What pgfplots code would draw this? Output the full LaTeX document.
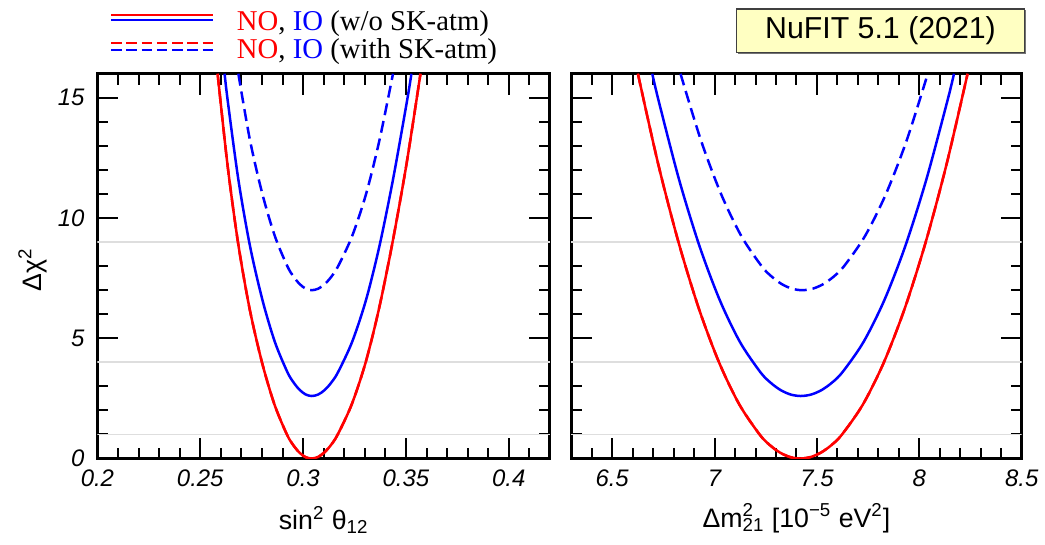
\documentclass[border=0pt]{standalone}
\usepackage{pgfplots}
\pgfplotsset{compat=1.18}
\usepackage{fontspec}
\setmainfont{Liberation Sans}
\newfontfamily\serif{Liberation Serif}
\definecolor{boxy}{RGB}{255,255,194}
\definecolor{lightgl}{RGB}{222,222,222}
\definecolor{myred}{RGB}{255,0,0}
\definecolor{myblue}{RGB}{0,0,255}

\pgfplotsset{
  cs/.style={line width=1.25pt, smooth, tension=0.5},
  cd/.style={line width=1.25pt, smooth, tension=0.5, dash pattern=on 6pt off 3pt},
  gline/.style={lightgl, line width=0.9pt, forget plot},
  base/.style={scale only axis, height=193pt, ymin=0, ymax=16,
    ytick={0,5,10,15},
    minor ytick={1,2,3,4,6,7,8,9,11,12,13,14,16},
    major tick length=10.5pt, minor tick length=5.5pt,
    every tick/.append style={line width=1pt, black},
    axis background/.style={draw=black, line width=1.5pt},
    tick label style={font=\fontsize{12}{14}\selectfont\itshape},
    xticklabel style={yshift=-2pt},
    yticklabel style={xshift=-3pt},
    label style={font=\fontsize{13.4}{16}\selectfont}},
}

\begin{document}
\begin{tikzpicture}
\path (0pt,0pt) rectangle (522.5pt,-273pt);

% ---------- left panel ----------
\begin{axis}[base, width=227pt, at={(48.85pt,-230pt)}, anchor=south west,
  xmin=0.2, xmax=0.42,
  xtick={0.2,0.25,0.3,0.35,0.4},
  minor xtick={0.21,0.22,0.23,0.24,0.26,0.27,0.28,0.29,0.31,0.32,0.33,0.34,0.36,0.37,0.38,0.39,0.41},
  xticklabels={0.2,0.25,0.3,0.35,0.4},
  yticklabels={0,5,10,15},
  xlabel={sin\textsuperscript{2} θ\textsubscript{12}},
  xlabel style={at={(axis description cs:0.5,-0.16)}, anchor=center},
  ylabel={Δχ\textsuperscript{2}},
  ylabel style={at={(axis description cs:-0.1425,0.49)}, anchor=center},
  legend style={at={(axis description cs:0.027,1.168)}, anchor=north west, draw=none, fill=none,
    inner sep=0pt, font=\serif\fontsize{14.4}{17}\selectfont, cells={anchor=west},
    nodes={inner sep=0pt, text height=10.5pt, text depth=3.5pt}, column sep=11.5pt},
]
\addlegendimage{legend image code/.code={
  \draw[myred,line width=1.2pt] (0pt,4.2pt) -- (51pt,4.2pt);
  \draw[myblue,line width=1.2pt] (0pt,1.7pt) -- (51pt,1.7pt);}}
\addlegendentry{\textcolor{myred}{NO}, \textcolor{myblue}{IO} (w/o SK-atm)}
\addlegendimage{legend image code/.code={
  \draw[myred,line width=1.2pt, dash pattern=on 5.25pt off 2.4pt] (0pt,4.2pt) -- (51pt,4.2pt);
  \draw[myblue,line width=1.2pt, dash pattern=on 5.25pt off 2.4pt] (0pt,0.8pt) -- (51pt,0.8pt);}}
\addlegendentry{\textcolor{myred}{NO}, \textcolor{myblue}{IO} (with SK-atm)}

\addplot[gline] coordinates {(0.2,1) (0.42,1)};
\addplot[gline] coordinates {(0.2,4) (0.42,4)};
\addplot[gline] coordinates {(0.2,9) (0.42,9)};
% NO with SK-atm (lies under NO w/o SK-atm)
\addplot[myred, cd, forget plot] coordinates {
(0.25845,16) (0.2632,12.25) (0.26833,9) (0.27395,6.25) (0.28001,4) (0.28607,2.25) (0.29213,1) (0.29518,0.5625)
(0.29818,0.25) (0.30109,0.0625) (0.3040,0) (0.30715,0.0625) (0.3103,0.25) (0.31355,0.5625) (0.31684,1)
(0.32363,2.25) (0.33041,4) (0.33695,6.25) (0.3435,9) (0.35028,12.25) (0.35706,16)};
% IO with SK-atm
\addplot[myblue, cd, forget plot] coordinates {
(0.26853,16) (0.27415,13.25) (0.28021,11) (0.28627,9.25) (0.29233,8) (0.29538,7.5625) (0.29838,7.25)
(0.30129,7.0625) (0.3042,7) (0.30735,7.0625) (0.3105,7.25) (0.31375,7.5625) (0.31704,8) (0.32383,9.25)
(0.33061,11) (0.33715,13.25) (0.3437,16)};
% IO w/o SK-atm
\addplot[myblue, cs, forget plot] coordinates {
(0.26184,16) (0.2634,14.85) (0.26853,11.6) (0.27415,8.85) (0.28021,6.6) (0.28627,4.85) (0.29233,3.6)
(0.29538,3.1625) (0.29838,2.85) (0.30129,2.6625) (0.3042,2.6) (0.30735,2.6625) (0.3105,2.85) (0.31375,3.1625)
(0.31704,3.6) (0.32383,4.85) (0.33061,6.6) (0.33715,8.85) (0.3437,11.6) (0.35048,14.85) (0.35266,16)};
% NO w/o SK-atm
\addplot[myred, cs, forget plot] coordinates {
(0.25845,16) (0.2632,12.25) (0.26833,9) (0.27395,6.25) (0.28001,4) (0.28607,2.25) (0.29213,1) (0.29518,0.5625)
(0.29818,0.25) (0.30109,0.0625) (0.3040,0) (0.30715,0.0625) (0.3103,0.25) (0.31355,0.5625) (0.31684,1)
(0.32363,2.25) (0.33041,4) (0.33695,6.25) (0.3435,9) (0.35028,12.25) (0.35706,16)};
\end{axis}

% ---------- right panel ----------
\begin{axis}[base, width=226pt, at={(286.5pt,-230pt)}, anchor=south west,
  xmin=6.3, xmax=8.5,
  xtick={6.5,7,7.5,8,8.5},
  xticklabels={6.5,7,7.5,8,8.5},
  minor xtick={6.4,6.6,6.7,6.8,6.9,7.1,7.2,7.3,7.4,7.6,7.7,7.8,7.9,8.1,8.2,8.3,8.4},
  yticklabels={},
  xlabel={Δm\rlap{\textsuperscript{2}}\textsubscript{21} [10\textsuperscript{−5} eV\textsuperscript{2}]},
  xlabel style={at={(axis description cs:0.5,-0.155)}, anchor=center},
]
\addplot[gline] coordinates {(6.3,1) (8.5,1)};
\addplot[gline] coordinates {(6.3,4) (8.5,4)};
\addplot[gline] coordinates {(6.3,9) (8.5,9)};
% NO with SK-atm (lies under NO w/o SK-atm)
\addplot[myred, cd] coordinates {
(6.6258,16) (6.7248,12.25) (6.8239,9) (6.9229,6.25) (7.0219,4) (7.1209,2.25) (7.22,1) (7.2695,0.5625)
(7.319,0.25) (7.3685,0.0625) (7.418,0) (7.4691,0.0625) (7.5202,0.25) (7.5713,0.5625) (7.6224,1)
(7.7246,2.25) (7.8268,4) (7.929,6.25) (8.0311,9) (8.1333,12.25) (8.2355,16)};
% IO with SK-atm
\addplot[myblue, cd] coordinates {
(6.8339,16) (6.9329,13.25) (7.0319,11) (7.1309,9.25) (7.23,8) (7.2795,7.5625) (7.329,7.25) (7.3785,7.0625)
(7.428,7) (7.4791,7.0625) (7.5302,7.25) (7.5813,7.5625) (7.6324,8) (7.7346,9.25) (7.8368,11) (7.939,13.25)
(8.0411,16)};
% IO w/o SK-atm
\addplot[myblue, cs] coordinates {
(6.6959,16) (6.7278,14.85) (6.8268,11.6) (6.9259,8.85) (7.0249,6.6) (7.1239,4.85) (7.223,3.6) (7.2725,3.1625)
(7.322,2.85) (7.3715,2.6625) (7.421,2.6) (7.4721,2.6625) (7.5232,2.85) (7.5743,3.1625) (7.6254,3.6)
(7.7276,4.85) (7.8298,6.6) (7.932,8.85) (8.0341,11.6) (8.1363,14.85) (8.1692,16)};
% NO w/o SK-atm
\addplot[myred, cs] coordinates {
(6.6258,16) (6.7248,12.25) (6.8239,9) (6.9229,6.25) (7.0219,4) (7.1209,2.25) (7.22,1) (7.2695,0.5625)
(7.319,0.25) (7.3685,0.0625) (7.418,0) (7.4691,0.0625) (7.5202,0.25) (7.5713,0.5625) (7.6224,1)
(7.7246,2.25) (7.8268,4) (7.929,6.25) (8.0311,9) (8.1333,12.25) (8.2355,16)};
\end{axis}

\fill[black!55] (370.2pt,-5.2pt) rectangle (514.7pt,-27.2pt);
\node[draw=black!75, fill=boxy, line width=0.8pt, minimum width=144.5pt, minimum height=22pt,
  inner sep=0pt, anchor=north west, font=\fontsize{15.2}{18}\selectfont] at (369pt,-4pt) {NuFIT 5.1 (2021)};
\end{tikzpicture}
\end{document}
